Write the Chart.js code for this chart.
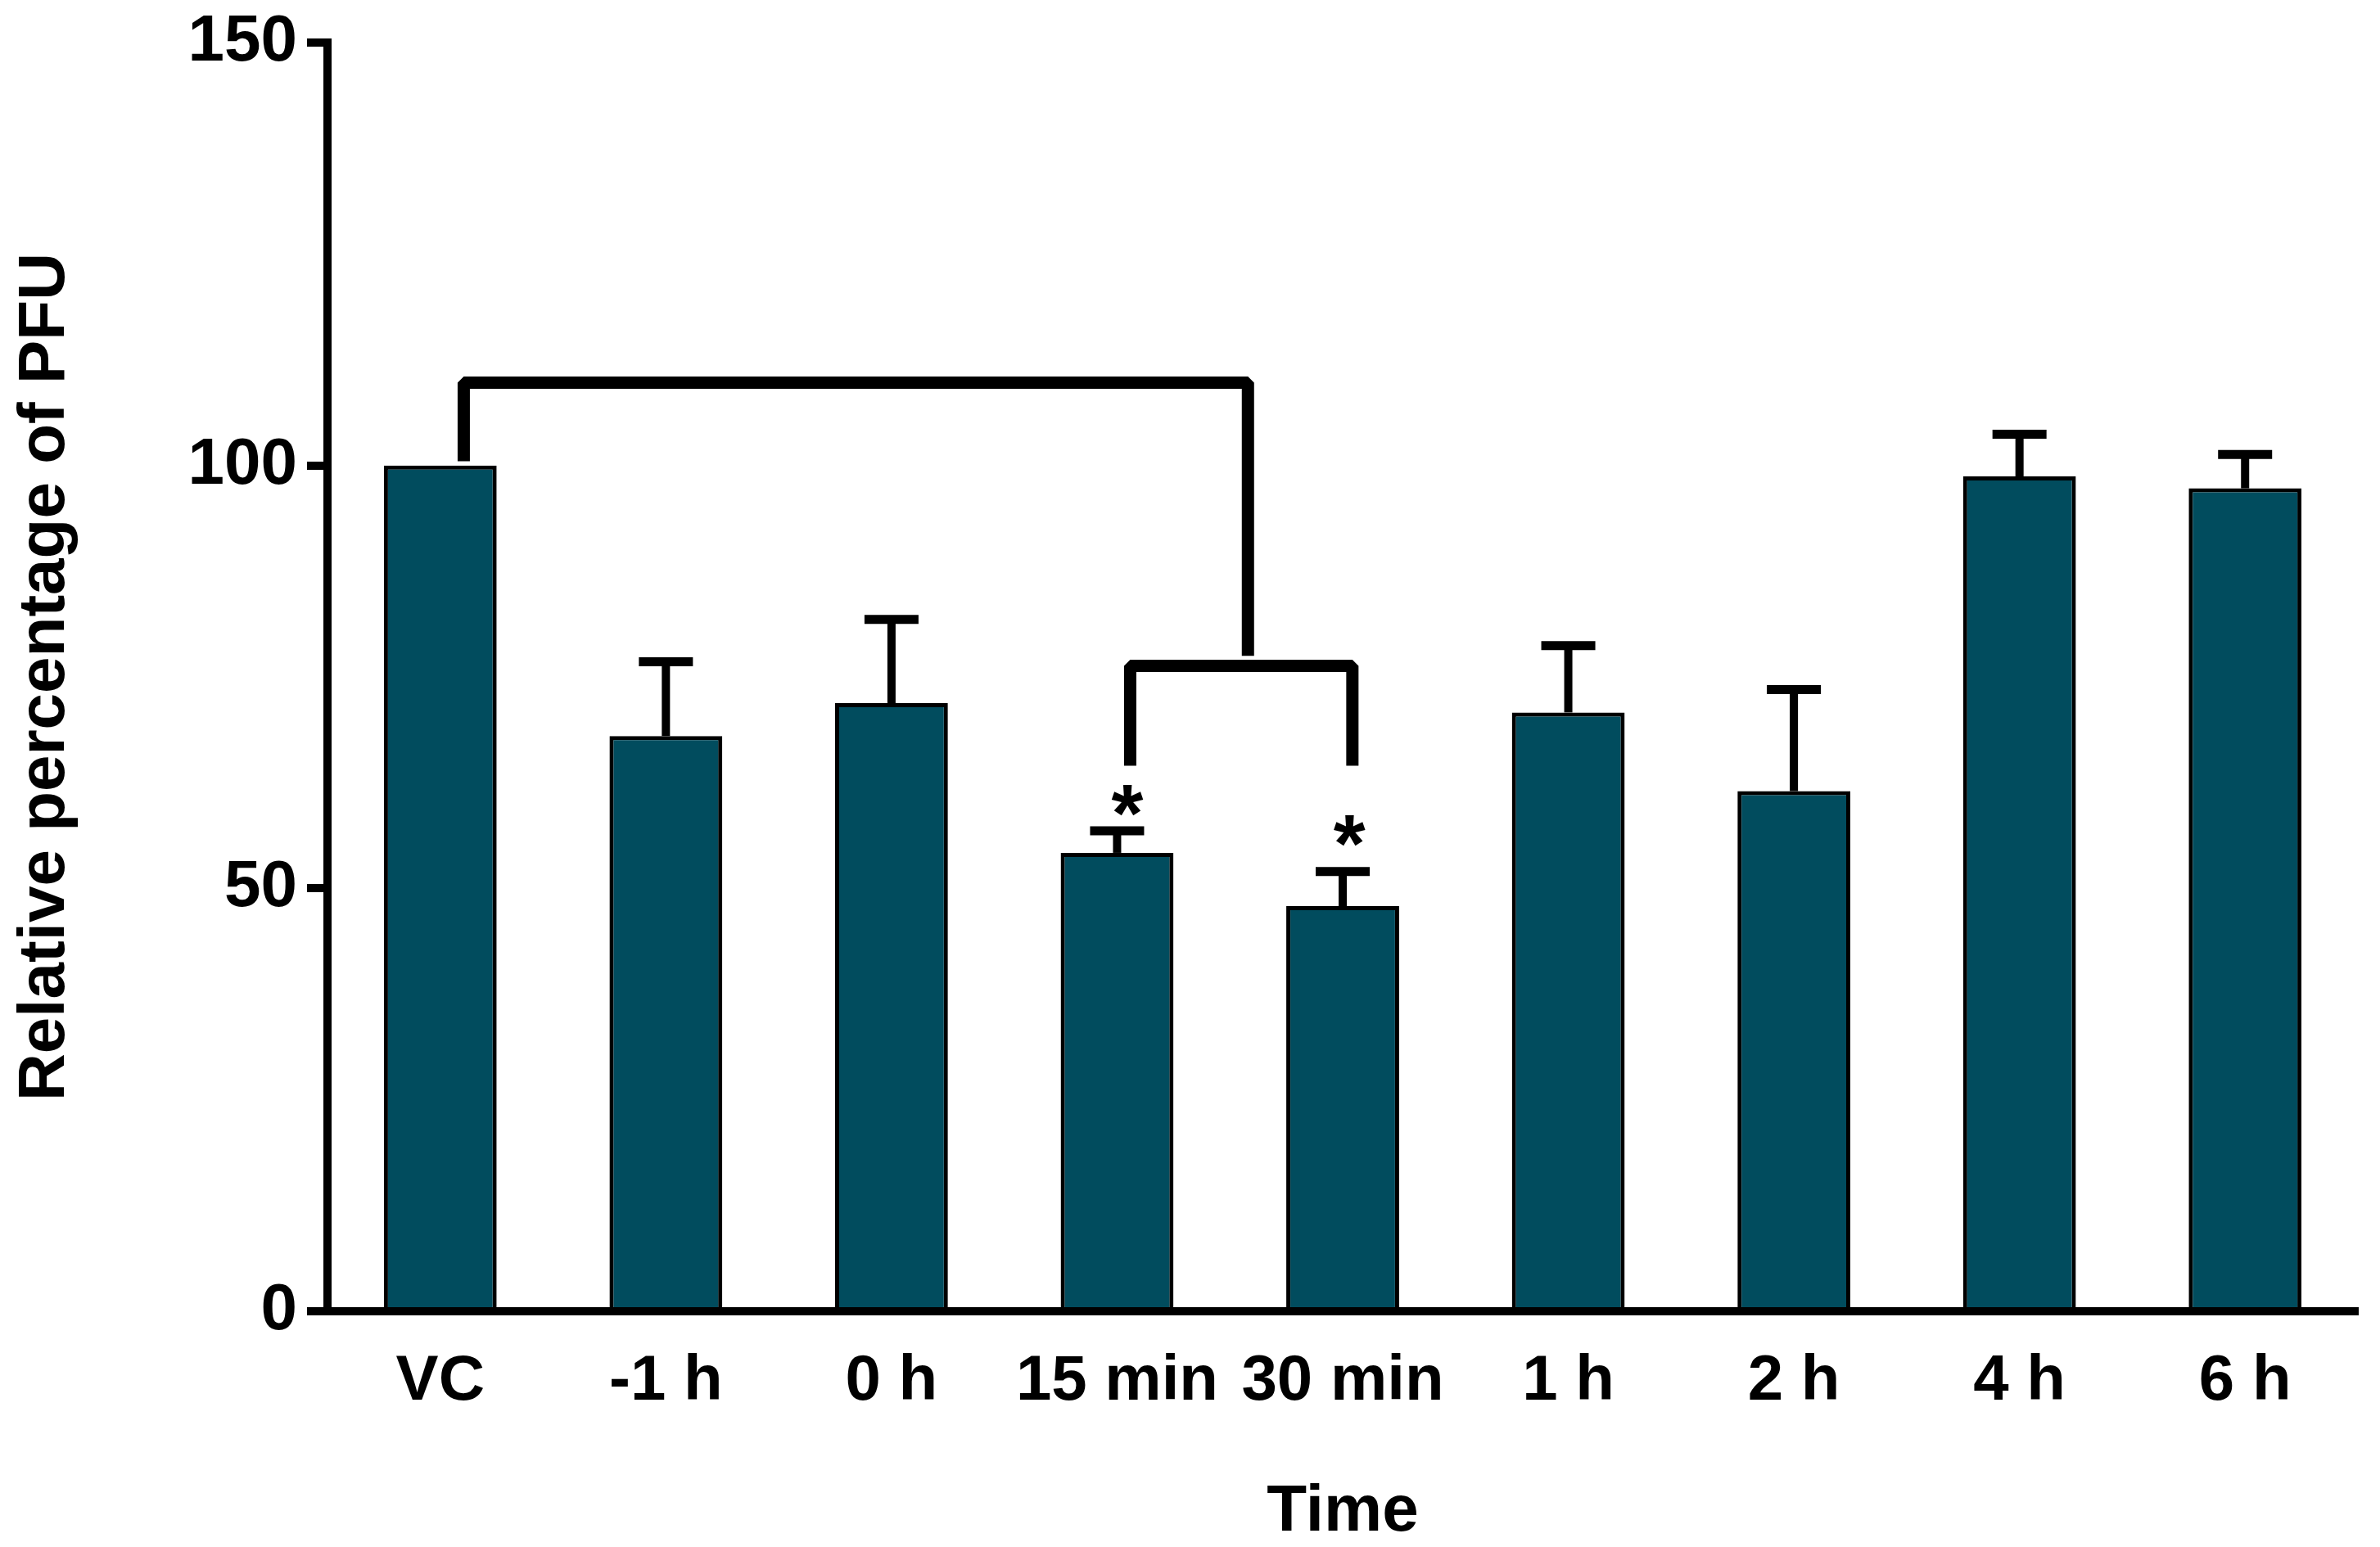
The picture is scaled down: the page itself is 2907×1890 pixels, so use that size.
<!DOCTYPE html>
<html>
<head>
<meta charset="utf-8">
<title>Relative percentage of PFU</title>
<script src="https://cdn.jsdelivr.net/npm/chart.js@4.4.1/dist/chart.umd.min.js"></script>
<style>
  html, body { margin: 0; padding: 0; background: #ffffff; }
  canvas { display: block; }
</style>
</head>
<body>
<canvas id="pfu-chart" width="2907" height="1890"></canvas>
<script>
// Data
const timeLabels = ['VC', '-1 h', '0 h', '15 min', '30 min', '1 h', '2 h', '4 h', '6 h'];
const pfuMeans = [100, 68.0, 71.9, 54.2, 47.9, 70.8, 61.5, 98.7, 97.3];
const pfuErrors = [0, 8.8, 9.9, 2.6, 4.1, 7.9, 12.0, 5.0, 4.0];
const yTicks = [0, 50, 100, 150];

// significance brackets, as [category index, value] points
const outerBracket = [[0.104, 100.5], [0.104, 109.8], [3.58, 109.8], [3.58, 77.5]];
const innerBracket = [[3.058, 64.5], [3.058, 76.3], [4.043, 76.3], [4.043, 64.5]];
// asterisks: [category index, value]
const starMarks = [[3.045, 60.9], [4.03, 57.3]];

const FONT = "'Liberation Sans', Arial, Helvetica, sans-serif";
const BAR_COLOR = '#014c5e';

// Draws error bars, brackets and asterisks on top of the bars
const annotationsPlugin = {
  id: 'pfuAnnotations',
  afterDatasetsDraw(chart) {
    const ctx = chart.ctx;
    const xs = chart.scales.x;
    const ys = chart.scales.y;
    ctx.save();
    ctx.strokeStyle = '#000';
    ctx.lineCap = 'butt';

    // error bars (upper only)
    pfuMeans.forEach((m, i) => {
      const err = pfuErrors[i];
      if (!err) return;
      const x = xs.getPixelForValue(i);
      const yTop = ys.getPixelForValue(m);
      const yErr = ys.getPixelForValue(m + err);
      ctx.lineWidth = 10;
      ctx.beginPath();
      ctx.moveTo(x, yTop);
      ctx.lineTo(x, yErr);
      ctx.stroke();
      ctx.lineWidth = 11;
      ctx.beginPath();
      ctx.moveTo(x - 33, yErr);
      ctx.lineTo(x + 33, yErr);
      ctx.stroke();
    });

    // brackets
    ctx.lineWidth = 15;
    ctx.lineJoin = 'bevel';
    [outerBracket, innerBracket].forEach(pts => {
      ctx.beginPath();
      pts.forEach(([i, v], k) => {
        const px = xs.getPixelForValue(i);
        const py = ys.getPixelForValue(v);
        if (k === 0) ctx.moveTo(px, py); else ctx.lineTo(px, py);
      });
      ctx.stroke();
    });

    // asterisks
    ctx.fillStyle = '#000';
    ctx.font = 'bold 100px ' + FONT;
    ctx.textAlign = 'center';
    ctx.textBaseline = 'alphabetic';
    starMarks.forEach(([i, v]) => {
      ctx.fillText('*', xs.getPixelForValue(i), ys.getPixelForValue(v) + 55);
    });
    ctx.restore();
  }
};

new Chart(document.getElementById('pfu-chart'), {
  type: 'bar',
  data: {
    labels: timeLabels,
    datasets: [{
      data: pfuMeans,
      backgroundColor: BAR_COLOR,
      borderColor: '#000',
      borderWidth: 5,
      borderSkipped: 'bottom',
      barPercentage: 0.5,
      categoryPercentage: 1.0
    }]
  },
  options: {
    responsive: false,
    devicePixelRatio: 1,
    animation: false,
    layout: { padding: { top: 50, right: 27, left: 0, bottom: 0 } },
    plugins: {
      legend: { display: false },
      tooltip: { enabled: false }
    },
    scales: {
      x: {
        offset: true,
        grid: { display: false, drawTicks: false },
        border: { display: true, color: '#000', width: 10 },
        ticks: {
          color: '#000',
          padding: 40,
          maxRotation: 0,
          autoSkip: false,
          font: { family: FONT, size: 78, weight: 'bold' }
        },
        title: {
          display: true,
          text: 'Time',
          color: '#000',
          padding: { top: 0, bottom: 0 },
          font: { family: FONT, size: 80, weight: 'bold', lineHeight: 1.05 }
        },
        afterFit(scale) { scale.height = 288; }
      },
      y: {
        min: 0,
        max: 150,
        afterBuildTicks(scale) { scale.ticks = yTicks.map(v => ({ value: v })); },
        grid: {
          drawOnChartArea: false,
          drawTicks: true,
          tickLength: 25,
          tickWidth: 10,
          tickColor: '#000',
          lineWidth: 10,
          color: '#000'
        },
        border: { display: true, color: '#000', width: 10 },
        ticks: {
          color: '#000',
          padding: 12,
          font: { family: FONT, size: 80, weight: 'bold', lineHeight: 1.0 }
        },
        title: {
          display: true,
          text: 'Relative percentage of PFU',
          color: '#000',
          padding: { top: 8, bottom: 0 },
          font: { family: FONT, size: 80, weight: 'bold', lineHeight: 1.2 }
        },
        afterFit(scale) { scale.width = 400; }
      }
    }
  },
  plugins: [annotationsPlugin]
});
</script>
</body>
</html>
